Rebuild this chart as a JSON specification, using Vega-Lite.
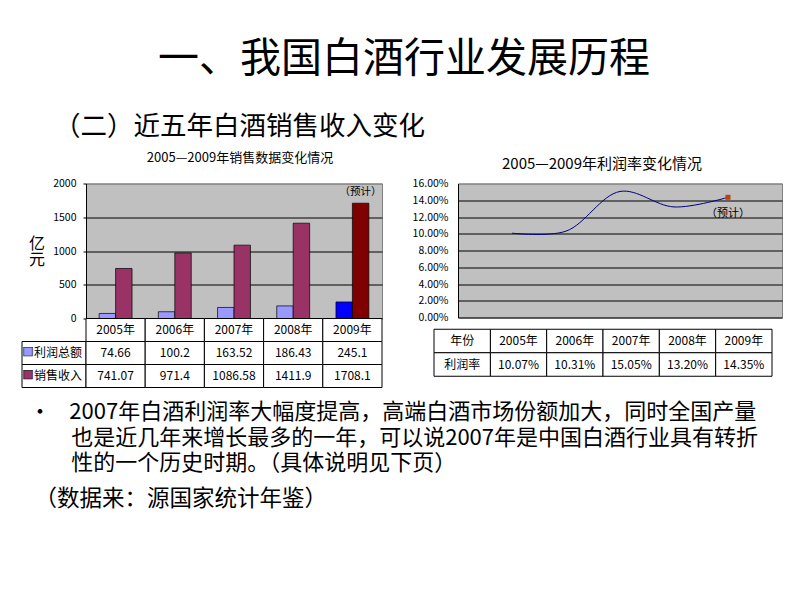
{
  "$schema": "https://vega.github.io/schema/vega-lite/v6.json",
  "padding": {"left": 21, "top": 38.5, "right": 5, "bottom": 5},
  "background": "white",
  "config": {
    "font": "Noto Sans CJK SC",
    "view": {"stroke": null},
    "title": {"color": "black", "fontWeight": "normal"},
    "axis": {"labelColor": "black", "labelFont": "Noto Sans CJK SC"},
    "text": {"color": "black", "font": "Noto Sans CJK SC"}
  },
  "datasets": {
    "sales": [
      {"year": "2005年", "series": "利润总额", "value": 74.66, "status": "实际"},
      {"year": "2006年", "series": "利润总额", "value": 100.2, "status": "实际"},
      {"year": "2007年", "series": "利润总额", "value": 163.52, "status": "实际"},
      {"year": "2008年", "series": "利润总额", "value": 186.43, "status": "实际"},
      {"year": "2009年", "series": "利润总额", "value": 245.1, "status": "预计"},
      {"year": "2005年", "series": "销售收入", "value": 741.07, "status": "实际"},
      {"year": "2006年", "series": "销售收入", "value": 971.4, "status": "实际"},
      {"year": "2007年", "series": "销售收入", "value": 1086.58, "status": "实际"},
      {"year": "2008年", "series": "销售收入", "value": 1411.9, "status": "实际"},
      {"year": "2009年", "series": "销售收入", "value": 1708.1, "status": "预计"}
    ],
    "rate": [
      {"year": "2005年", "rate": 0.1007, "status": "实际"},
      {"year": "2006年", "rate": 0.1031, "status": "实际"},
      {"year": "2007年", "rate": 0.1505, "status": "实际"},
      {"year": "2008年", "rate": 0.132, "status": "实际"},
      {"year": "2009年", "rate": 0.1435, "status": "预计"}
    ]
  },
  "title": {"text": "一、我国白酒行业发展历程", "fontSize": 41, "anchor": "middle", "offset": 32.5, "dx": 2},
  "vconcat": [
    {
      "title": {"text": "（数据来：源国家统计年鉴）", "orient": "bottom", "anchor": "start", "fontSize": 22.5, "offset": 14, "dx": 13},
      "vconcat": [
        {
          "title": {
            "text": [
              "•\u2002\u2006\u20062007年白酒利润率大幅度提高，高端白酒市场份额加大，同时全国产量",
              "\u200b\u2003\u2002\u2005\u2006也是近几年来增长最多的一年，可以说2007年是中国白酒行业具有转折",
              "\u200b\u2003\u2002\u2005\u2006性的一个历史时期。（具体说明见下页）"
            ],
            "orient": "bottom", "anchor": "start", "fontSize": 22, "lineHeight": 25.5, "offset": 14, "dx": 7.5
          },
          "vconcat": [
            {
              "title": {"text": "（二）近五年白酒销售收入变化", "anchor": "start", "fontSize": 26.5, "offset": 11, "dx": 32.5},
              "spacing": 28,
              "hconcat": [
                {
                  "columns": 2,
                  "bounds": "flush",
                  "spacing": 0,
                  "concat": [
                    {"width": 64, "height": 135, "data": {"values": []}, "mark": "point"},
                    {
                      "width": 296, "height": 135,
                      "view": {"fill": "#c0c0c0", "stroke": "#808080", "strokeWidth": 1},
                      "title": {"text": "2005—2009年销售数据变化情况", "fontSize": 13, "offset": 14, "dx": 6},
                      "data": {"name": "sales"},
                      "encoding": {
                        "x": {"field": "year", "type": "nominal", "scale": {"paddingInner": 0, "paddingOuter": 0}, "axis": null},
                        "y": {
                          "field": "value", "type": "quantitative", "scale": {"domain": [0, 2000]},
                          "axis": {
                            "values": [0, 500, 1000, 1500, 2000], "format": "d", "grid": true,
                            "gridColor": {"condition": {"test": "datum.value === 2000", "value": "#808080"}, "value": "black"},
                            "gridOpacity": 1, "domainColor": "black", "tickColor": "black", "tickSize": 3,
                            "labelFontSize": 10.5, "labelPadding": 7,
                            "title": ["亿", "元"], "titleAngle": 0, "titleFontSize": 16, "titleFontWeight": "normal",
                            "titleX": -49.5, "titleY": 59.5, "titleAlign": "center", "titleBaseline": "middle", "titleLineHeight": 16
                          }
                        },
                        "xOffset": {"field": "series", "type": "nominal", "scale": {"domain": ["利润总额", "销售收入"], "paddingInner": 0, "paddingOuter": 0.8}}
                      },
                      "layer": [
                        {
                          "mark": {"type": "bar", "stroke": "black", "strokeWidth": 0.7},
                          "encoding": {
                            "color": {
                              "field": "series", "type": "nominal",
                              "scale": {"domain": ["利润总额", "销售收入"], "range": ["#9999ff", "#993366"]},
                              "legend": null,
                              "condition": [
                                {"test": "datum.status === '预计' && datum.series === '利润总额'", "value": "#0000ff"},
                                {"test": "datum.status === '预计' && datum.series === '销售收入'", "value": "#800000"}
                              ]
                            }
                          }
                        },
                        {
                          "transform": [{"filter": "datum.status === '预计' && datum.series === '销售收入'"}],
                          "mark": {"type": "text", "text": "（预计）", "baseline": "middle", "dy": -11, "fontSize": 10.5}
                        }
                      ]
                    },
                    {
                      "width": 64, "height": 69,
                      "data": {"name": "sales"},
                      "transform": [{"filter": "datum.year === '2005年'"}],
                      "encoding": {
                        "y": {"field": "series", "type": "nominal", "scale": {"domain": ["年份", "利润总额", "销售收入"], "paddingInner": 0, "paddingOuter": 0}, "axis": null}
                      },
                      "layer": [
                        {"mark": {"type": "rect", "fill": "white", "stroke": "black", "strokeWidth": 1}},
                        {"mark": {"type": "text", "align": "left", "dx": -20, "fontSize": 12}, "encoding": {"text": {"field": "series"}}},
                        {
                          "mark": {"type": "text", "text": "■", "dx": -26, "fontSize": 11, "stroke": "black", "strokeWidth": 0.6},
                          "encoding": {"color": {"field": "series", "type": "nominal", "scale": {"domain": ["利润总额", "销售收入"], "range": ["#9999ff", "#993366"]}, "legend": null}}
                        }
                      ]
                    },
                    {
                      "width": 296, "height": 69,
                      "data": {"name": "sales"},
                      "encoding": {
                        "x": {"field": "year", "type": "nominal", "scale": {"paddingInner": 0, "paddingOuter": 0}, "axis": null}
                      },
                      "layer": [
                        {
                          "transform": [{"filter": "datum.series === '利润总额'"}],
                          "mark": {"type": "rect", "fill": "white", "stroke": "black", "strokeWidth": 1},
                          "encoding": {"y": {"datum": "年份", "type": "nominal", "scale": {"domain": ["年份", "利润总额", "销售收入"], "paddingInner": 0, "paddingOuter": 0}, "axis": null}}
                        },
                        {
                          "transform": [{"filter": "datum.series === '利润总额'"}],
                          "mark": {"type": "text", "fontSize": 12},
                          "encoding": {"y": {"datum": "年份", "type": "nominal", "axis": null}, "text": {"field": "year"}}
                        },
                        {
                          "mark": {"type": "rect", "fill": "white", "stroke": "black", "strokeWidth": 1},
                          "encoding": {"y": {"field": "series", "type": "nominal", "axis": null}}
                        },
                        {
                          "mark": {"type": "text", "fontSize": 12},
                          "encoding": {"y": {"field": "series", "type": "nominal", "axis": null}, "text": {"field": "value", "type": "nominal"}}
                        }
                      ]
                    }
                  ]
                },
                {
                  "spacing": 4.75,
                  "vconcat": [
                    {
                      "spacing": -49.5,
                      "hconcat": [
                        {"width": 24, "height": 134, "data": {"values": []}, "mark": "point"},
                        {
                          "width": 324, "height": 134,
                          "view": {"fill": "#c0c0c0", "stroke": "#808080", "strokeWidth": 1},
                          "title": {"text": "2005—2009年利润率变化情况", "fontSize": 15, "offset": 6.5, "dx": -18},
                          "data": {"name": "rate"},
                          "encoding": {
                            "x": {"field": "year", "type": "ordinal", "scale": {"type": "point", "padding": 1.1}, "axis": null},
                            "y": {
                              "field": "rate", "type": "quantitative", "scale": {"domain": [0, 0.16]},
                              "axis": {
                                "values": [0, 0.02, 0.04, 0.06, 0.08, 0.1, 0.12, 0.14, 0.16], "format": ".2%", "grid": true,
                                "gridColor": {"condition": {"test": "datum.value > 0.159", "value": "#808080"}, "value": "black"},
                                "gridOpacity": 1, "domainColor": "black", "ticks": false, "labelPadding": 10, "labelFontSize": 10.5, "title": null
                              }
                            }
                          },
                          "layer": [
                            {"mark": {"type": "line", "interpolate": "catmull-rom", "color": "#000080", "strokeWidth": 1}},
                            {
                              "transform": [{"filter": "datum.status === '预计'"}],
                              "mark": {"type": "point", "shape": "square", "filled": true, "size": 25, "color": "#c04010", "opacity": 1}
                            },
                            {
                              "transform": [{"filter": "datum.status === '预计'"}],
                              "mark": {"type": "text", "text": "（预计）", "dy": 17, "fontSize": 11}
                            }
                          ]
                        }
                      ]
                    },
                    {
                      "width": 338, "height": 47,
                      "encoding": {
                        "x": {"field": "year", "type": "nominal", "scale": {"domain": ["年份", "2005年", "2006年", "2007年", "2008年", "2009年"], "paddingInner": 0, "paddingOuter": 0}, "axis": null}
                      },
                      "layer": [
                        {
                          "data": {"name": "rate"},
                          "mark": {"type": "rect", "fill": "white", "stroke": "black", "strokeWidth": 1},
                          "encoding": {"y": {"datum": "年份", "type": "nominal", "scale": {"domain": ["年份", "利润率"], "paddingInner": 0, "paddingOuter": 0}, "axis": null}}
                        },
                        {
                          "data": {"name": "rate"},
                          "mark": {"type": "text", "fontSize": 12},
                          "encoding": {"y": {"datum": "年份", "type": "nominal", "axis": null}, "text": {"field": "year"}}
                        },
                        {
                          "data": {"name": "rate"},
                          "mark": {"type": "rect", "fill": "white", "stroke": "black", "strokeWidth": 1},
                          "encoding": {"y": {"datum": "利润率", "type": "nominal", "axis": null}}
                        },
                        {
                          "data": {"name": "rate"},
                          "mark": {"type": "text", "fontSize": 12},
                          "encoding": {"y": {"datum": "利润率", "type": "nominal", "axis": null}, "text": {"field": "rate", "type": "quantitative", "format": ".2%"}}
                        },
                        {
                          "data": {"values": [{"row": "年份"}, {"row": "利润率"}]},
                          "mark": {"type": "rect", "fill": "white", "stroke": "black", "strokeWidth": 1},
                          "encoding": {"x": {"datum": "年份", "type": "nominal"}, "y": {"field": "row", "type": "nominal", "axis": null}}
                        },
                        {
                          "data": {"values": [{"row": "年份"}, {"row": "利润率"}]},
                          "mark": {"type": "text", "fontSize": 12},
                          "encoding": {"x": {"datum": "年份", "type": "nominal"}, "y": {"field": "row", "type": "nominal", "axis": null}, "text": {"field": "row"}}
                        }
                      ]
                    }
                  ]
                }
              ]
            }
          ]
        }
      ]
    }
  ]
}
